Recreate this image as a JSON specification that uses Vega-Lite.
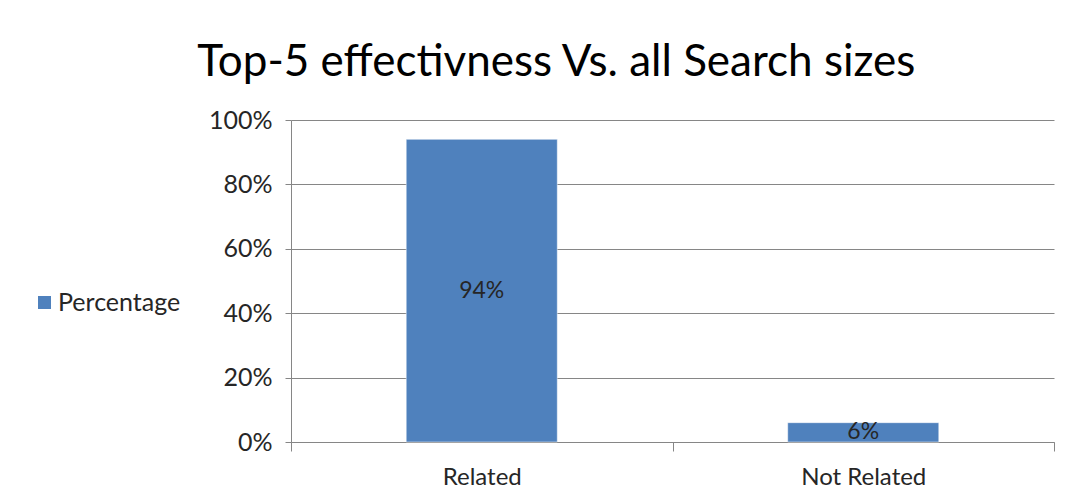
{
  "$schema": "https://vega.github.io/schema/vega-lite/v6.json",
  "width": 763,
  "height": 322,
  "padding": {"left": 32, "top": 41, "right": 21, "bottom": 10},
  "background": "#ffffff",
  "title": {
    "text": "Top-5 effectivness Vs. all Search sizes",
    "font": "Lato",
    "fontSize": 44,
    "fontWeight": "normal",
    "color": "#000000",
    "anchor": "middle",
    "frame": "bounds",
    "offset": 23,
    "dx": 13
  },
  "data": {
    "values": [
      {"category": "Related", "share": 0.94, "series": "Percentage"},
      {"category": "Not Related", "share": 0.06, "series": "Percentage"}
    ]
  },
  "encoding": {
    "x": {
      "field": "category",
      "type": "nominal",
      "sort": null,
      "scale": {"paddingInner": 0, "paddingOuter": 0},
      "axis": {
        "title": null,
        "labelAngle": 0,
        "labelFontSize": 24,
        "tickBand": "extent",
        "tickSize": 9,
        "labelPadding": 14
      }
    }
  },
  "layer": [
    {
      "mark": {"type": "bar", "width": {"band": 0.396}, "stroke": "#ffffff", "strokeWidth": 0.5},
      "encoding": {
        "y": {
          "field": "share",
          "type": "quantitative",
          "scale": {"domain": [0, 1]},
          "axis": {
            "title": null,
            "format": ".0%",
            "values": [0, 0.2, 0.4, 0.6, 0.8, 1],
            "labelFontSize": 25,
            "tickSize": 6,
            "labelPadding": 13,
            "grid": true
          }
        },
        "color": {
          "field": "series",
          "type": "nominal",
          "scale": {"range": ["#4f81bd"]},
          "legend": {
            "title": null,
            "orient": "none",
            "legendX": -259,
            "legendY": 170,
            "symbolType": "square",
            "symbolSize": 169,
            "symbolStrokeWidth": 0,
            "labelFont": "Lato",
            "labelFontSize": 25,
            "labelColor": "#262626",
            "labelOffset": 1
          }
        }
      }
    },
    {
      "mark": {
        "type": "text",
        "font": "Lato",
        "fontSize": 23,
        "color": "#262626",
        "baseline": "middle",
        "dy": {"expr": "(scale('y', 0) - scale('y', datum.share)) / 2"}
      },
      "encoding": {
        "y": {"field": "share", "type": "quantitative"},
        "text": {"field": "share", "type": "quantitative", "format": ".0%"}
      }
    }
  ],
  "config": {
    "view": {"stroke": null},
    "axis": {
      "domainColor": "#868686",
      "tickColor": "#868686",
      "gridColor": "#868686",
      "gridWidth": 1,
      "labelFont": "Lato",
      "labelFontSize": 22,
      "labelColor": "#262626"
    }
  }
}
